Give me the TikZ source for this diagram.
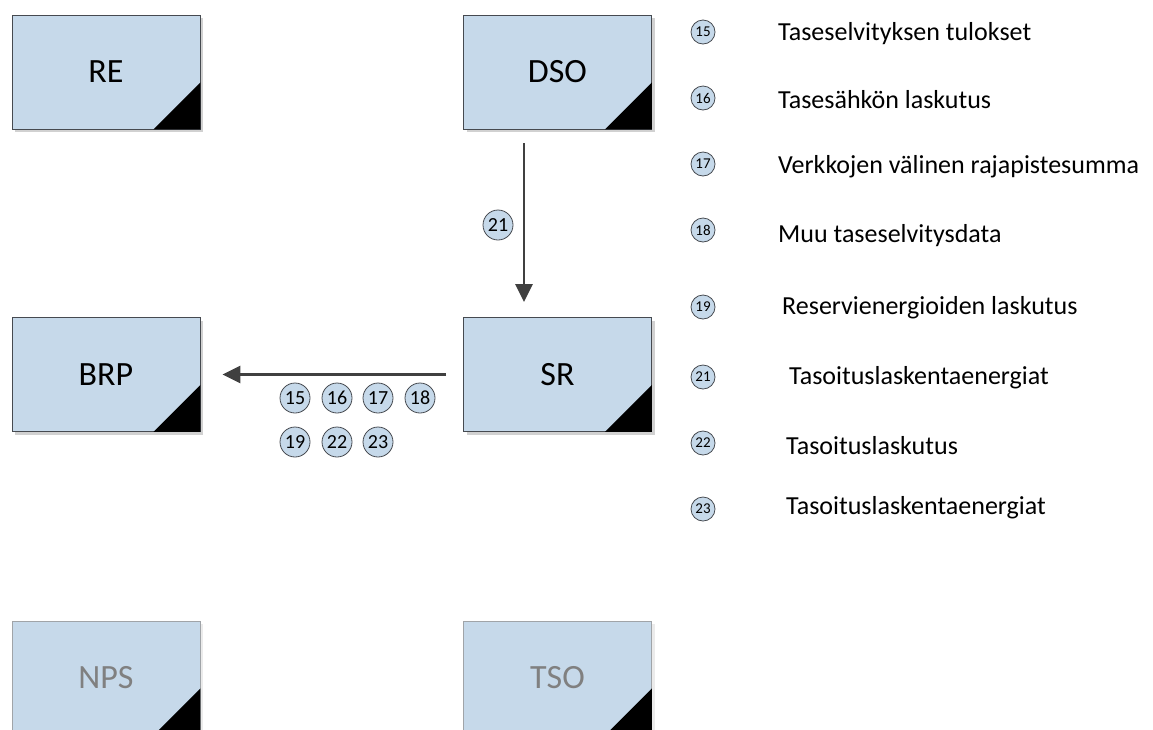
\documentclass[tikz,border=0pt]{standalone}
\usepackage{fontspec}
\setmainfont{Carlito}
\usetikzlibrary{arrows.meta,shadows}

\definecolor{boxfill}{RGB}{198,217,234}
\definecolor{boxline}{RGB}{70,74,80}
\definecolor{fadeline}{RGB}{160,164,168}
\definecolor{fadetext}{RGB}{128,128,128}
\definecolor{arrowgray}{RGB}{64,64,64}

\tikzset{
  actor/.style={draw=boxline, line width=0.9pt, fill=boxfill,
    minimum width=188pt, minimum height=114pt, inner sep=0pt,
    font=\fontsize{34}{34}\selectfont,
    drop shadow={shadow xshift=3pt, shadow yshift=-3pt, fill=black!18, opacity=1}},
  faded/.style={actor, draw=fadeline, text=fadetext,
    drop shadow={shadow xshift=3pt, shadow yshift=-3pt, fill=black!8, opacity=1}},
  msg/.style={circle, draw=boxline, line width=0.8pt, fill=boxfill,
    minimum size=30pt, inner sep=0pt, font=\fontsize{20}{20}\selectfont},
  keymsg/.style={msg, minimum size=24pt, font=\fontsize{15}{15}\selectfont},
  keytext/.style={anchor=west, inner sep=0pt, font=\fontsize{26}{26}\selectfont},
  flow/.style={draw=arrowgray, line width=2.6pt,
    -{Triangle[length=18pt,width=17pt]}},
}

% black corner mark in the lower right of an actor box
\newcommand{\cornermark}[1]{%
  \fill[black] (#1.south east) -- ++(-47,0) -- ++(47,-47) -- cycle;}

\begin{document}
\begin{tikzpicture}[x=1pt,y=-1pt]
  \useasboundingbox (0,0) rectangle (1153,729);
  \begin{scope}
    \clip (0,0) rectangle (1153,729);

    % actors
    \node[actor] (RE)  at (106,72)    {RE};
    \node[actor] (DSO) at (557.5,72)  {DSO};
    \node[actor] (BRP) at (106,374.5) {BRP};
    \node[actor] (SR)  at (557.5,374.5) {SR};
    \node[faded] (NPS) at (106,678)   {NPS};
    \node[faded] (TSO) at (557.5,678) {TSO};
    \foreach \b in {RE,DSO,BRP,SR,NPS,TSO} {\cornermark{\b}}

    % message flows
    \draw[flow, shorten <=14pt, shorten >=15pt]
      ([xshift=-33.5pt]DSO.south) -- ([xshift=-33.5pt]SR.north);
    \draw[flow, shorten <=17pt, shorten >=22pt] (SR.west) -- (BRP.east);

    \node[msg] (m21) at (498,225) {21};

    \node[msg] (m15) at (295,398) {15};
    \node[msg] (m16) at (337,398) {16};
    \node[msg] (m17) at (378,398) {17};
    \node[msg] (m18) at (420,398) {18};
    \node[msg] (m19) at (295,442) {19};
    \node[msg] (m22) at (337,442) {22};
    \node[msg] (m23) at (378,442) {23};

    % key
    \node[keymsg] (k15) at (703,32)  {15};
    \node[keytext] (t15) at (778,34) {Taseselvityksen tulokset};
    \node[keymsg] (k16) at (703,98)  {16};
    \node[keytext] (t16) at (778,100) {Tasesähkön laskutus};
    \node[keymsg] (k17) at (703,164) {17};
    \node[keytext] (t17) at (778,167) {Verkkojen välinen rajapistesumma};
    \node[keymsg] (k18) at (703,230) {18};
    \node[keytext] (t18) at (778,236) {Muu taseselvitysdata};
    \node[keymsg] (k19) at (703,307) {19};
    \node[keytext] (t19) at (782,308) {Reservienergioiden laskutus};
    \node[keymsg] (k21) at (703,377) {21};
    \node[keytext] (t21) at (789,378) {Tasoituslaskentaenergiat};
    \node[keymsg] (k22) at (703,443) {22};
    \node[keytext] (t22) at (786,446) {Tasoituslaskutus};
    \node[keymsg] (k23) at (703,509) {23};
    \node[keytext] (t23) at (786,508) {Tasoituslaskentaenergiat};
  \end{scope}
\end{tikzpicture}
\end{document}
